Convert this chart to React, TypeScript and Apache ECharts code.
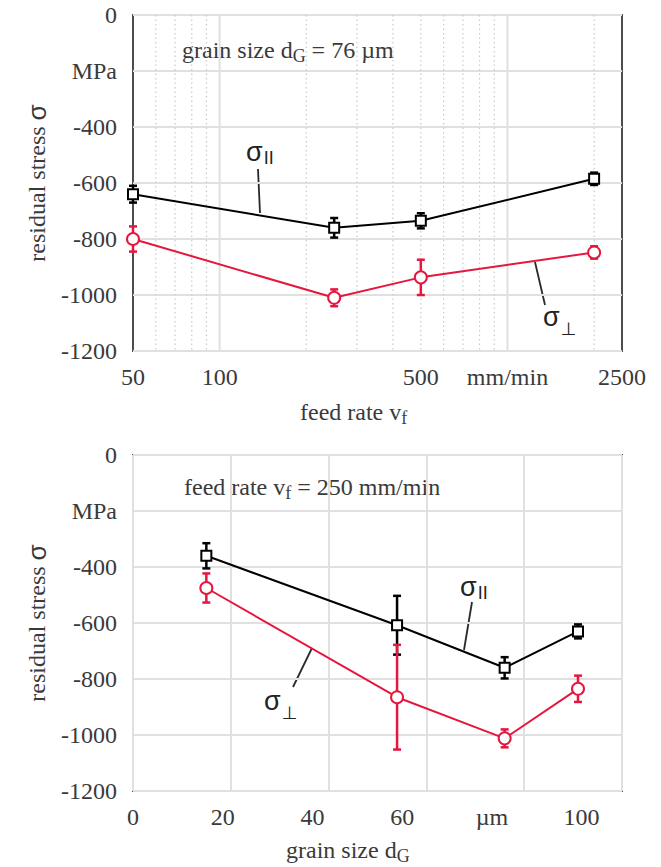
import React, { useEffect, useRef } from "react";
import * as echarts from "echarts";

// ---- data (top chart: stress vs feed rate, dG = 76 µm)
const feedRates = [50, 250, 500, 2000];
const feedParMean = [-640, -760, -735, -585];
const feedParErr = [30, 35, 27, 22];
const feedPerpMean = [-800, -1010, -937, -848];
const feedPerpErr = [45, 30, 63, 22];

// ---- data (bottom chart: stress vs grain size, vf = 250 mm/min)
const grainSizes = [15, 54, 76, 91];
const grainParMean = [-360, -608, -760, -630];
const grainParErr = [45, 105, 38, 25];
const grainPerpMean = [-475, -865, -1012, -835];
const grainPerpErr = [52, 187, 32, 47];

// ---- axis ticks / labels
const feedTickLabels = [50, 100, 500, 1000, 2500];
const feedMajorGrid = [100, 1000];
const feedMinorGrid = [60, 70, 80, 90, 200, 300, 400, 500, 600, 700, 800, 900, 2000];
const grainTickLabels = [0, 20, 40, 60, 80, 100];

const SERIF = "'Liberation Serif', 'Times New Roman', serif";
const SANS = "'Liberation Sans', 'DejaVu Sans', sans-serif";
const TXT = "#3a3a3a";
const RED = "#e5173f";
const GRIDC = "#e0e0e0";
const FS = 24;

function errorBars(xs: number[], means: number[], errs: number[], color: string, gi: number) {
  return {
    type: "custom",
    xAxisIndex: gi === 0 ? 0 : 1,
    yAxisIndex: gi,
    silent: true,
    z: 3,
    data: xs.map((x, i) => [x, means[i] - errs[i], means[i] + errs[i]]),
    encode: { x: 0, y: [1, 2] },
    renderItem: (_p: any, api: any) => {
      const x = api.value(0);
      const lo = api.coord([x, api.value(1)]);
      const hi = api.coord([x, api.value(2)]);
      const c = 4;
      const style = { stroke: color, lineWidth: 2.5, fill: null };
      return {
        type: "group",
        children: [
          { type: "line", shape: { x1: lo[0], y1: lo[1], x2: hi[0], y2: hi[1] }, style },
          { type: "line", shape: { x1: lo[0] - c, y1: lo[1], x2: lo[0] + c, y2: lo[1] }, style },
          { type: "line", shape: { x1: hi[0] - c, y1: hi[1], x2: hi[0] + c, y2: hi[1] }, style },
        ],
      };
    },
  };
}

function vGrid(values: number[], minor: boolean) {
  return {
    type: "custom",
    xAxisIndex: 0,
    yAxisIndex: 0,
    silent: true,
    z: 1,
    data: values.map((v) => [v, -1200]),
    encode: { x: 0, y: 1 },
    renderItem: (_p: any, api: any) => {
      const top = api.coord([api.value(0), 0]);
      const bot = api.coord([api.value(0), -1200]);
      return {
        type: "line",
        shape: { x1: top[0], y1: top[1], x2: bot[0], y2: bot[1] },
        style: minor
          ? { stroke: "#c9c9c9", lineWidth: 1.2, lineDash: [1.5, 3] }
          : { stroke: GRIDC, lineWidth: 2 },
      };
    },
  };
}

function lineSeries(xs: number[], ys: number[], color: string, symbol: string, size: number, gi: number) {
  return {
    type: "line",
    xAxisIndex: gi === 0 ? 0 : 1,
    yAxisIndex: gi,
    z: 5,
    silent: true,
    data: xs.map((x, i) => [x, ys[i]]),
    symbol,
    symbolSize: size,
    showAllSymbol: true,
    lineStyle: { color, width: 2 },
    itemStyle: { color: "#fff", borderColor: color, borderWidth: 2 },
  };
}

const yAxisBase = (gi: number) => ({
  type: "value",
  gridIndex: gi,
  min: -1200,
  max: 0,
  interval: 200,
  axisLine: { show: false },
  axisTick: { show: false },
  splitLine: { show: true, lineStyle: { color: GRIDC, width: 2 } },
  axisLabel: {
    margin: 16,
    fontSize: FS,
    fontFamily: SERIF,
    color: TXT,
    formatter: (v: number) => (v === -200 ? "MPa" : String(v)),
  },
  name: "{m|residual stress }{s|σ}",
  nameLocation: "middle",
  nameGap: 76,
  nameTextStyle: {
    fontSize: FS,
    fontFamily: SERIF,
    color: TXT,
    rich: {
      m: { fontSize: FS, fontFamily: SERIF, color: TXT },
      s: { fontSize: 26, fontFamily: SANS, color: TXT },
    },
  },
});

const subRich = (size: number, pad: number) => ({
  m: { fontSize: FS, fontFamily: SERIF, fill: TXT, color: TXT },
  sub: { fontSize: size, fontFamily: SERIF, fill: TXT, color: TXT, padding: [pad, 0, 0, 0] },
});

function label(x: number, y: number, text: string, rich: any) {
  return {
    type: "text",
    x,
    y,
    silent: true,
    style: {
      text,
      rich,
      fill: TXT,
      font: `${FS}px ${SERIF}`,
      align: "left",
      textAlign: "left",
      verticalAlign: "middle",
      textVerticalAlign: "middle",
    },
  };
}

function sigma(x: number, y: number, sub: string, subSize: number, pad: number) {
  return label(x, y, `{s|σ}{p|${sub}}`, {
    s: { fontSize: 27, fontFamily: SANS, fill: "#222", color: "#222" },
    p: { fontSize: subSize, fontFamily: SANS, fill: "#222", color: "#222", padding: [pad, 0, 0, 1] },
  });
}

function leader(x1: number, y1: number, x2: number, y2: number) {
  return {
    type: "line",
    silent: true,
    shape: { x1, y1, x2, y2 },
    style: { stroke: "#2a2a2a", lineWidth: 1.8 },
  };
}

export default function App() {
  const ref = useRef<HTMLDivElement>(null);
  useEffect(() => {
    if (!ref.current) return;
    const chart = echarts.init(ref.current, undefined, { renderer: "svg" });
    const option: any = {
      animation: false,
      backgroundColor: "#fff",
      grid: [
        { left: 133, top: 15, width: 489, height: 336, show: true, borderColor: "#4d4d4d", borderWidth: 2, backgroundColor: "transparent", z: 0 },
        { left: 133, top: 455, width: 489, height: 336, show: true, borderColor: "#4d4d4d", borderWidth: 2, backgroundColor: "transparent", z: 0 },
      ],
      xAxis: [
        {
          type: "log",
          logBase: 10,
          gridIndex: 0,
          min: 50,
          max: 2500,
          axisLine: { show: false },
          axisTick: { show: false },
          splitLine: { show: false },
          axisLabel: {
            customValues: feedTickLabels,
            margin: 14,
            fontSize: FS,
            fontFamily: SERIF,
            color: TXT,
            formatter: (v: number) => {
              const r = Math.round(v);
              return r === 1000 ? "mm/min" : String(r);
            },
          },
        },
        {
          type: "value",
          gridIndex: 1,
          min: 0,
          max: 100,
          interval: 20,
          axisLine: { show: false },
          axisTick: { show: false },
          axisLabel: { show: false },
          splitLine: { show: true, lineStyle: { color: GRIDC, width: 2 } },
        },
        {
          type: "value",
          gridIndex: 1,
          position: "bottom",
          min: 0,
          max: 109,
          interval: 20,
          axisLine: { show: false },
          axisTick: { show: false },
          splitLine: { show: false },
          axisLabel: {
            margin: 14,
            fontSize: FS,
            fontFamily: SERIF,
            color: TXT,
            showMaxLabel: false,
            formatter: (v: number) => {
              const r = Math.round(v);
              if (grainTickLabels.indexOf(r) < 0) return "";
              return r === 80 ? "µm" : String(r);
            },
          },
        },
      ],
      yAxis: [yAxisBase(0), yAxisBase(1)],
      series: [
        vGrid(feedMajorGrid, false),
        vGrid(feedMinorGrid, true),
        errorBars(feedRates, feedParMean, feedParErr, "#000", 0),
        errorBars(feedRates, feedPerpMean, feedPerpErr, RED, 0),
        lineSeries(feedRates, feedParMean, "#000", "rect", 10, 0),
        lineSeries(feedRates, feedPerpMean, RED, "circle", 12, 0),
        errorBars(grainSizes, grainParMean, grainParErr, "#000", 1),
        errorBars(grainSizes, grainPerpMean, grainPerpErr, RED, 1),
        lineSeries(grainSizes, grainParMean, "#000", "rect", 10, 1),
        lineSeries(grainSizes, grainPerpMean, RED, "circle", 12, 1),
      ],
      graphic: [
        label(182, 50, "{m|grain size d}{sub|G}{m| = 76 µm}", subRich(18, 12)),
        label(300, 412, "{m|feed rate v}{sub|f}", subRich(18, 12)),
        label(184, 487, "{m|feed rate v}{sub|f}{m| = 250 mm/min}", subRich(18, 12)),
        label(286, 850, "{m|grain size d}{sub|G}", subRich(18, 12)),
        sigma(246, 152, "II", 18, 12),
        leader(258, 169, 260, 213),
        sigma(543, 317, "⊥", 18, 24),
        leader(535, 262, 545, 305),
        sigma(460, 587, "II", 18, 12),
        leader(472, 602, 464, 650),
        sigma(264, 701, "⊥", 18, 24),
        leader(293, 687, 312, 648),
      ],
    };
    chart.setOption(option);
    return () => chart.dispose();
  }, []);
  return (
    <div
      ref={ref}
      style={{ position: "absolute", left: 0, top: 0, width: 661, height: 867 }}
    />
  );
}
